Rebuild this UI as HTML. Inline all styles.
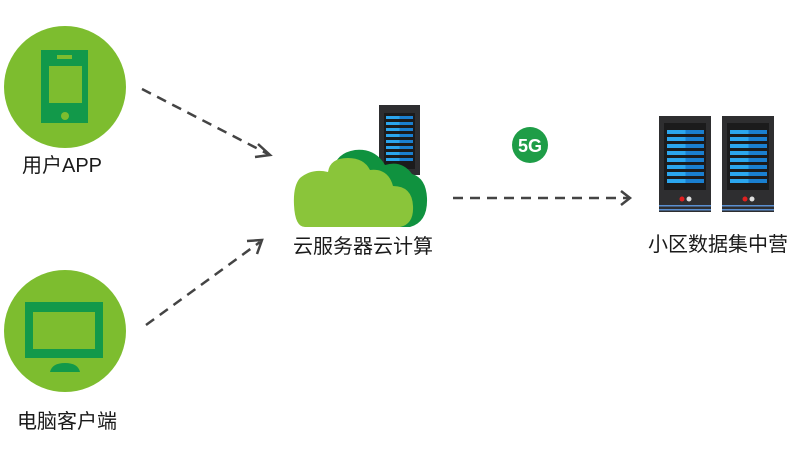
<!DOCTYPE html>
<html><head><meta charset="utf-8"><style>
html,body{margin:0;padding:0;background:#fff;}
svg{display:block}
text{font-family:"Liberation Sans","Noto Sans CJK SC",sans-serif;fill:#1a1a1a;font-size:20px}
</style></head><body>
<svg width="790" height="450" viewBox="0 0 790 450" xmlns="http://www.w3.org/2000/svg">
<defs>
<linearGradient id="bl" x1="0" x2="1"><stop offset="0.5" stop-color="#2ba6ee"/><stop offset="0.5" stop-color="#1a7fd0"/></linearGradient>
</defs>
<circle cx="65" cy="87" r="61" fill="#7dbd2f"/>
<rect x="41" y="50" width="47" height="73" fill="#12994a"/>
<rect x="49" y="66" width="33" height="37" fill="#7dbd2f"/>
<rect x="57" y="55" width="15" height="4" fill="#7dbd2f"/>
<circle cx="65" cy="116" r="4" fill="#7dbd2f"/>
<text x="22" y="172">用户APP</text>
<circle cx="65" cy="331" r="61" fill="#7dbd2f"/>
<rect x="25" y="302" width="78" height="56" fill="#12994a"/>
<rect x="33" y="312" width="62" height="37" fill="#7dbd2f"/>
<path d="M50 372 Q52 363 65 363 Q78 363 80 372 Z" fill="#12994a"/>
<text x="17" y="428">电脑客户端</text>
<g stroke="#444" stroke-width="2.5" fill="none">
<line x1="142" y1="89" x2="268" y2="154" stroke-dasharray="10,7"/>
<polyline points="258,144 270,155 255,157"/>
<line x1="146" y1="325" x2="260" y2="242" stroke-dasharray="10,7"/>
<polyline points="247,241 262,240 257,254"/>
<line x1="453" y1="198" x2="628" y2="198" stroke-dasharray="10,7"/>
<polyline points="621,191 630,198 621,205"/>
</g>
<rect x="379" y="105" width="41" height="70" fill="#2e2e30"/>
<rect x="384" y="113" width="31" height="56" fill="#1b1b1c"/>
<g fill="url(#bl)">
<rect x="386" y="116" width="27" height="3"/><rect x="386" y="122" width="27" height="3"/><rect x="386" y="128" width="27" height="3"/><rect x="386" y="134" width="27" height="3"/><rect x="386" y="140" width="27" height="3"/><rect x="386" y="146" width="27" height="3"/><rect x="386" y="152" width="27" height="3"/><rect x="386" y="158" width="27" height="3"/>
</g>
<path d="M345 227 L410 227 Q428 222 427 198 Q426 178 412 174 Q402 160 385 165 Q375 148 355 150 Q336 153 333 170 Z" fill="#10923f"/>
<path d="M305 227 L400 227 Q414 224 413 206 Q412 186 393 186 Q388 168 370 170 Q364 158 348 158 Q330 158 328 172 Q312 168 300 178 Q293 186 294 205 Q295 227 305 227 Z" fill="#8ac53a"/>
<text x="293" y="253">云服务器云计算</text>
<circle cx="530" cy="145" r="18" fill="#1e9d47"/>
<text x="530" y="152" text-anchor="middle" style="fill:#fff;font-weight:bold;font-size:18px">5G</text>
<rect x="659" y="116" width="52" height="96" fill="#2e2e30"/>
<rect x="664" y="123" width="42" height="67" fill="#1b1b1c"/>
<rect x="722" y="116" width="52" height="96" fill="#2e2e30"/>
<rect x="727" y="123" width="42" height="67" fill="#1b1b1c"/>
<g fill="url(#bl)">
<rect x="667" y="130" width="37" height="4"/><rect x="667" y="137" width="37" height="4"/><rect x="667" y="144" width="37" height="4"/><rect x="667" y="151" width="37" height="4"/><rect x="667" y="158" width="37" height="4"/><rect x="667" y="165" width="37" height="4"/><rect x="667" y="172" width="37" height="4"/><rect x="667" y="179" width="37" height="4"/>
<rect x="730" y="130" width="37" height="4"/><rect x="730" y="137" width="37" height="4"/><rect x="730" y="144" width="37" height="4"/><rect x="730" y="151" width="37" height="4"/><rect x="730" y="158" width="37" height="4"/><rect x="730" y="165" width="37" height="4"/><rect x="730" y="172" width="37" height="4"/><rect x="730" y="179" width="37" height="4"/>
</g>
<circle cx="682" cy="199" r="2.5" fill="#e02020"/><circle cx="689" cy="199" r="2.5" fill="#ddd"/>
<circle cx="745" cy="199" r="2.5" fill="#e02020"/><circle cx="752" cy="199" r="2.5" fill="#ddd"/>
<rect x="659" y="205" width="52" height="1.5" fill="#5a8fd0"/><rect x="659" y="209" width="52" height="1.5" fill="#5a8fd0"/>
<rect x="722" y="205" width="52" height="1.5" fill="#5a8fd0"/><rect x="722" y="209" width="52" height="1.5" fill="#5a8fd0"/>
<text x="648" y="251">小区数据集中营</text>
</svg>
</body></html>
